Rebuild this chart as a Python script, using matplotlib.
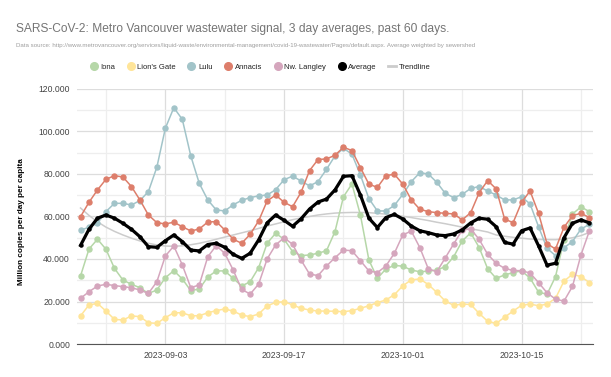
import numpy as np
import pandas as pd
import matplotlib
matplotlib.use('Agg')
import matplotlib.pyplot as plt
from matplotlib.lines import Line2D

plt.rcParams['font.family'] = ['Liberation Sans', 'DejaVu Sans']

# daily values, thousands of copies, 2023-08-24 .. 2023-10-23
start_date = '2023-08-24'
n_days = 61

iona = [32, 44.7, 49.3, 44.6, 35.6, 30.1, 28.1, 26.5, 23.8, 25.4,
        31.2, 34.5, 30.6, 25.1, 25.9, 31.5, 34.4, 34.4, 30.9, 27.3,
        29.3, 35.9, 47.4, 52.1, 49.3, 43.5, 41.6, 41.9, 42.7, 43.9,
        52.9, 69.3, 75.3, 60.7, 39.5, 30.9, 35.3, 37.0, 36.6, 34.8,
        34.0, 34.3, 34.8, 36.4, 41.1, 48.5, 52.3, 45.4, 35.4, 30.9,
        32.5, 33.6, 34.4, 31.0, 24.4, 23.4, 31.7, 49.0, 61.2, 64.5, 62.3]
lions_gate = [13.2, 18.4, 19.1, 15.5, 11.6, 11.3, 13.2, 12.9, 10.0, 9.7,
              12.4, 14.7, 14.7, 13.3, 13.3, 14.7, 15.7, 16.5, 15.5, 13.6,
              12.9, 14.1, 17.9, 19.6, 19.9, 18.4, 16.8, 16.0, 15.5, 15.5,
              15.4, 15.2, 15.7, 16.8, 18.0, 19.5, 20.7, 23.2, 27.4, 30.2,
              30.6, 28.0, 24.3, 20.2, 18.2, 18.8, 18.6, 14.4, 10.7, 9.7,
              12.6, 15.5, 18.2, 18.8, 18.0, 18.8, 21.5, 29.6, 32.8, 31.7, 28.9]
lulu = [53.5, 55.0, 56.8, 62.3, 66.2, 66.2, 65.4, 67.5, 71.7, 83.2,
        101.5, 111.2, 105.7, 88.5, 75.6, 67.8, 63.1, 62.6, 65.5, 67.6,
        68.9, 69.7, 70.1, 72.6, 77.3, 79.0, 76.7, 74.4, 76.4, 82.2,
        88.5, 92.1, 89.3, 79.5, 68.4, 62.6, 62.6, 65.2, 70.4, 76.4,
        80.6, 80.0, 76.1, 70.9, 68.9, 70.4, 73.2, 74.1, 72.0, 70.1,
        67.8, 67.8, 69.3, 65.9, 55.2, 45.0, 41.6, 45.3, 48.2, 54.1, 56.3]
annacis = [59.9, 66.7, 72.5, 77.5, 79.2, 78.6, 74.1, 67.8, 60.7, 57.1,
           56.5, 57.3, 55.2, 53.2, 54.1, 57.4, 57.6, 53.7, 49.3, 47.4,
           51.6, 57.9, 67.3, 70.1, 66.7, 64.6, 71.4, 81.6, 86.8, 87.1,
           88.8, 92.6, 91.0, 83.0, 75.2, 73.7, 79.2, 79.9, 75.2, 67.8,
           63.4, 62.3, 61.8, 61.5, 61.2, 58.4, 61.8, 71.2, 76.9, 73.0,
           58.8, 57.1, 66.7, 72.0, 61.5, 47.2, 44.7, 54.9, 60.4, 61.5, 59.5]
nw_langley = [21.5, 24.6, 27.3, 28.1, 27.5, 27.0, 26.5, 25.4, 23.8, 29.3,
              41.4, 46.1, 37.2, 26.5, 27.8, 41.0, 46.3, 42.7, 34.8, 25.7,
              23.5, 28.2, 40.0, 46.6, 50.0, 46.9, 39.5, 32.9, 32.2, 36.7,
              40.6, 44.2, 43.9, 39.2, 34.4, 33.6, 36.7, 42.7, 51.4, 53.1,
              45.4, 35.4, 34.0, 40.5, 47.1, 53.6, 54.2, 49.2, 42.2, 38.0,
              35.6, 34.6, 34.5, 33.4, 28.9, 24.1, 21.1, 20.2, 27.1, 41.9, 53.3]
average = [46.4, 54.0, 59.2, 60.7, 59.2, 56.8, 54.0, 50.5, 45.8, 45.5,
           48.6, 51.3, 48.2, 44.2, 43.8, 46.8, 47.4, 45.5, 42.2, 40.3,
           42.7, 49.0, 57.0, 60.7, 58.2, 55.4, 58.9, 63.5, 66.8, 68.2,
           72.5, 78.9, 79.2, 70.1, 59.2, 54.8, 59.5, 61.0, 58.8, 55.5,
           53.3, 52.4, 51.3, 51.0, 51.8, 53.7, 57.0, 59.2, 58.7, 55.2,
           47.8, 47.0, 53.3, 54.6, 46.2, 37.1, 38.0, 50.0, 56.8, 58.4, 57.0]
trendline = [64.0, 60.5, 57.5, 55.0, 53.0, 51.3, 49.8, 48.5, 47.4, 46.6,
             46.1, 46.0, 46.2, 46.7, 47.4, 48.3, 49.3, 50.3, 51.3, 52.3,
             53.3, 54.4, 55.5, 56.5, 57.5, 58.5, 59.3, 60.0, 60.7, 61.2,
             61.6, 61.8, 61.9, 61.9, 61.8, 61.5, 61.1, 60.6, 60.1, 59.5,
             58.8, 58.1, 57.3, 56.6, 55.8, 55.0, 54.2, 53.5, 52.7, 51.3,
             50.7, 50.2, 49.8, 49.4, 49.2, 49.1, 49.1, 49.4, 50.0, 51.0, 52.5]

names = ['Iona', "Lion's Gate", 'Lulu', 'Annacis', 'Nw. Langley']
series = [iona, lions_gate, lulu, annacis, nw_langley]
colors = ['#b6d7a8', '#ffe599', '#a2c4c9', '#dd7e6b', '#d5a6bd']

labeled_ticks = ['2023-09-03', '2023-09-17', '2023-10-01', '2023-10-15']
week_ticks = ['2023-08-27', '2023-09-10', '2023-09-24', '2023-10-08', '2023-10-22']

dates = pd.date_range(start_date, periods=n_days)

fig = plt.figure(figsize=(6.11, 3.77), dpi=100)
ax = fig.add_axes([0.126, 0.0875, 0.8445, 0.6765])

ax.plot(dates, trendline, color='#cccccc', lw=1.1, zorder=2)
for vals, c in zip(series, colors):
    ax.plot(dates, vals, color=c, lw=1.1, marker='o', ms=3.6, mec=c, mfc=c, zorder=3)
ax.plot(dates, average, color='black', lw=2.3, marker='o', ms=2.2, zorder=4)

ax.set_ylim(0, 120)
ax.set_yticks(np.arange(0, 121, 20))
ax.set_yticks(np.arange(10, 120, 20), minor=True)
ax.set_yticklabels(['%.3f' % v for v in np.arange(0, 121, 20)])
ax.set_xlim(dates[0] - pd.Timedelta(hours=10), dates[-1] + pd.Timedelta(hours=10))
ax.set_xticks(pd.to_datetime(labeled_ticks))
ax.set_xticklabels(labeled_ticks)
ax.set_xticks(pd.to_datetime(week_ticks), minor=True)

ax.grid(which='major', color='#dddddd', lw=0.9)
ax.grid(which='minor', color='#eeeeee', lw=0.9)
ax.set_axisbelow(True)
for s in ['top', 'right', 'left']:
    ax.spines[s].set_visible(False)
ax.spines['bottom'].set_color('#555555')
ax.tick_params(which='both', length=0)
ax.tick_params(axis='y', labelsize=6.2, colors='#444444', pad=5)
ax.tick_params(axis='x', labelsize=6.2, colors='#444444', pad=5)

ax.set_ylabel('Million copies per day per capita', fontsize=5.9, fontweight='bold')
ax.yaxis.set_label_coords(-0.1, 0.48)

fig.text(0.026, 0.915, 'SARS-CoV-2: Metro Vancouver wastewater signal, 3 day averages, past 60 days.',
         fontsize=8.65, color='#757575', va='baseline')
fig.text(0.027, 0.876, 'Data source: http://www.metrovancouver.org/services/liquid-waste/environmental-management/'
         'covid-19-wastewater/Pages/default.aspx. Average weighted by sewershed',
         fontsize=4.45, color='#9e9e9e', va='baseline')

handles = [Line2D([], [], ls='none', marker='o', ms=5.5, mfc=c, mec=c) for c in colors]
handles.append(Line2D([], [], ls='none', marker='o', ms=5.5, mfc='black', mec='black'))
handles.append(Line2D([], [], color='#cccccc', lw=2))
fig.legend(handles, names + ['Average', 'Trendline'], loc='center', bbox_to_anchor=(0.426, 0.822),
           ncol=7, frameon=False, fontsize=5.5, handlelength=1.0, handletextpad=0.4,
           columnspacing=1.5, labelcolor='#222222')

plt.savefig('out.png', dpi=100)
